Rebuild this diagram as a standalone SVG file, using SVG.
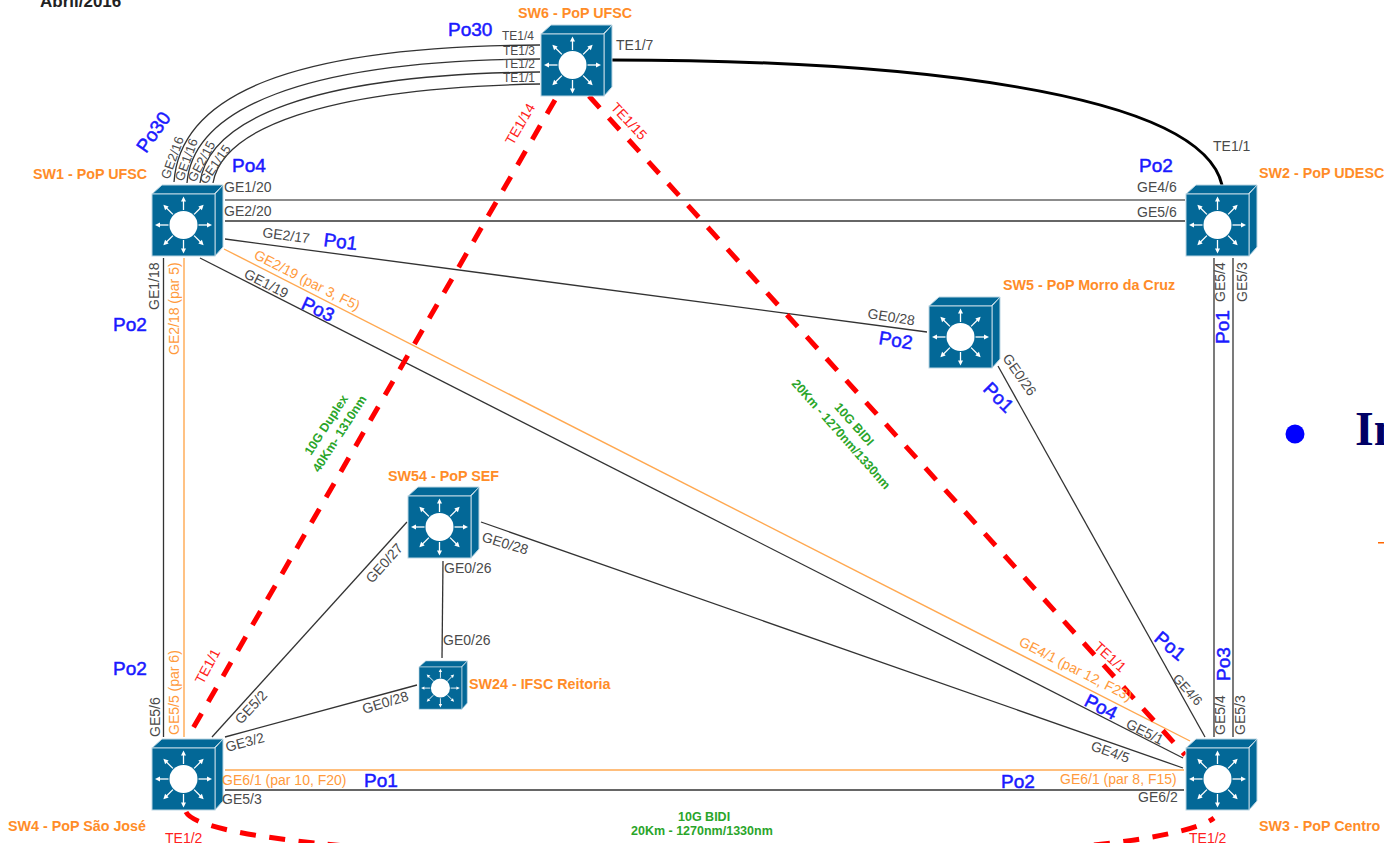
<svg xmlns="http://www.w3.org/2000/svg" xmlns:xlink="http://www.w3.org/1999/xlink" width="1384" height="843" viewBox="0 0 1384 843">
<style>
text{font-family:"Liberation Sans",Arial,sans-serif}
.p{font-size:14px;fill:#4a4a4a}
.s{font-size:13px;fill:#4a4a4a}
.t{font-size:12px;fill:#4a4a4a}
.o{font-size:14px;fill:#ff9a3c}
.b{font-size:19px;fill:#1a1aff;stroke:#1a1aff;stroke-width:.5}
.r{font-size:14px;fill:#ff2020}
.g{font-size:12.5px;font-weight:bold;fill:#2aa52a}
.n{font-size:14.3px;font-weight:bold;fill:#ff8c28}
.k{fill:none;stroke:#333;stroke-width:1.3}
.a{fill:none;stroke:#ffa850;stroke-width:1.4}
.d{fill:none;stroke:#f00;stroke-width:5;stroke-dasharray:16 13.5}
.fr{fill:#036897;stroke:#bcd6e3;stroke-width:1}
</style>
<defs>
<g id="ar"><path d="M0-15V-24" stroke="#fff" stroke-width="1.3" fill="none"/><path d="M0-28.5L2.500-23.500H-2.500Z" fill="#fff"/></g>
<g id="sw">
<path class="fr" d="M0 0L10-9H71L62 0Z"/>
<path class="fr" d="M63 0L71-9V53L63 62Z"/>
<rect class="fr" x="0" y="0" width="63" height="62"/>
<circle cx="31.5" cy="31" r="14" fill="#fff"/>
<g transform="translate(31.5 31)">
<use xlink:href="#ar" href="#ar"/>
<use xlink:href="#ar" href="#ar" transform="rotate(45)"/>
<use xlink:href="#ar" href="#ar" transform="rotate(90)"/>
<use xlink:href="#ar" href="#ar" transform="rotate(135)"/>
<use xlink:href="#ar" href="#ar" transform="rotate(180)"/>
<use xlink:href="#ar" href="#ar" transform="rotate(225)"/>
<use xlink:href="#ar" href="#ar" transform="rotate(270)"/>
<use xlink:href="#ar" href="#ar" transform="rotate(315)"/>
</g>
</g>
</defs>
<rect width="1384" height="843" fill="#fff"/>
<g id="connectors">
<path class="k" d="M174 182C180 95 290 46 540 45"/>
<path class="k" d="M187 183C193 110 300 60 540 59"/>
<path class="k" d="M200 183C208 120 310 74 540 72"/>
<path class="k" d="M213 183C222 130 320 88 540 84"/>
<path d="M611 60C900 60 1200 90 1222 185" fill="none" stroke="#000" stroke-width="3"/>
<path d="M225 200H1185" fill="none" stroke="#666" stroke-width="1.6"/>
<path class="k" d="M225 221H1185"/>
<path class="k" d="M225 239L927 332"/>
<path class="a" d="M224 249L1190 741"/>
<path class="k" d="M200 258L1183 758"/>
<path class="k" d="M481 522L1183 768"/>
<path class="k" d="M443 561L442 658"/>
<path class="k" d="M407 522L212 737"/>
<path class="k" d="M225 737L417 685"/>
<path class="k" d="M998 366L1205 737"/>
<path class="k" d="M163.500 258V737"/>
<path class="a" d="M184 258V737"/>
<path class="k" d="M1214 258V737"/>
<path class="k" d="M1233 258V737"/>
<path class="a" d="M225 770H1184"/>
<path class="k" d="M225 790H1184"/>
<path class="d" d="M555 100L188 737"/>
<path class="d" d="M589 96L1185 755"/>
<path class="d" d="M186 812C215 870 1130 880 1214 818"/>
</g>
<g id="sw1"><use xlink:href="#sw" href="#sw" x="152" y="194"/><text class="n" x="33" y="179">SW1 - PoP UFSC</text></g>
<g id="sw6"><use xlink:href="#sw" href="#sw" x="541" y="34"/><text class="n" x="518" y="18">SW6 - PoP UFSC</text></g>
<g id="sw2"><use xlink:href="#sw" href="#sw" x="1186" y="194"/><text class="n" x="1259" y="178">SW2 - PoP UDESC</text></g>
<g id="sw5"><use xlink:href="#sw" href="#sw" x="929" y="306"/><text class="n" x="1003" y="290">SW5 - PoP Morro da Cruz</text></g>
<g id="sw54"><use xlink:href="#sw" href="#sw" x="408" y="496"/><text class="n" x="388" y="481">SW54 - PoP SEF</text></g>
<g id="sw24"><use xlink:href="#sw" href="#sw" transform="translate(419 667) scale(.68)"/><text class="n" x="469" y="689">SW24 - IFSC Reitoria</text></g>
<g id="sw4"><use xlink:href="#sw" href="#sw" x="152" y="748"/><text class="n" x="8" y="831">SW4 - PoP São José</text></g>
<g id="sw3"><use xlink:href="#sw" href="#sw" x="1186" y="748"/><text class="n" x="1259" y="831">SW3 - PoP Centro</text></g>
<g id="labels">
<text x="40" y="7" font-size="17" font-weight="bold" fill="#222">Abril/2016</text>
<text class="b" x="448" y="36">Po30</text>
<text class="t" x="502" y="40">TE1/4</text>
<text class="t" x="503" y="55">TE1/3</text>
<text class="t" x="503" y="68">TE1/2</text>
<text class="t" x="503" y="82">TE1/1</text>
<text class="p" x="616" y="50">TE1/7</text>
<text class="r" transform="translate(513 146) rotate(-60)">TE1/14</text>
<text class="r" transform="translate(610 108) rotate(47)">TE1/15</text>
<text class="b" transform="translate(146 154) rotate(-55)">Po30</text>
<text class="s" transform="translate(169 180) rotate(-70)">GE2/16</text>
<text class="s" transform="translate(183 182) rotate(-70)">GE1/16</text>
<text class="s" transform="translate(195 183) rotate(-62)">GE2/15</text>
<text class="s" transform="translate(206 185) rotate(-55)">GE1/15</text>
<text class="b" x="232" y="172">Po4</text>
<text class="p" x="224" y="192">GE1/20</text>
<text class="p" x="224" y="216">GE2/20</text>
<text class="p" transform="translate(262 237) rotate(7.500)">GE2/17</text>
<text class="b" transform="translate(323 246) rotate(7)">Po1</text>
<text class="o" transform="translate(253 258) rotate(27)">GE2/19 (par 3, F5)</text>
<text class="p" transform="translate(243 277) rotate(27)">GE1/19</text>
<text class="b" transform="translate(300 308) rotate(25)">Po3</text>
<text class="p" transform="translate(159 310) rotate(-90)">GE1/18</text>
<text class="o" transform="translate(179 355) rotate(-90)">GE2/18 (par 5)</text>
<text class="b" x="113" y="331">Po2</text>
<text class="b" x="113" y="675">Po2</text>
<text class="p" transform="translate(160 737) rotate(-90)">GE5/6</text>
<text class="o" transform="translate(179 735) rotate(-90)">GE5/5 (par 6)</text>
<text class="r" transform="translate(203 685) rotate(-62)">TE1/1</text>
<text class="p" transform="translate(241 725) rotate(-47)">GE5/2</text>
<text class="p" transform="translate(227 752) rotate(-15)">GE3/2</text>
<text class="p" transform="translate(364 714) rotate(-17)">GE0/28</text>
<text class="o" x="222" y="785">GE6/1 (par 10, F20)</text>
<text class="b" x="364" y="787">Po1</text>
<text class="p" x="222" y="804">GE5/3</text>
<text class="r" x="165" y="843">TE1/2</text>
<text class="p" transform="translate(372 584) rotate(-48)">GE0/27</text>
<text class="p" transform="translate(481 541) rotate(17)">GE0/28</text>
<text class="p" x="444" y="573">GE0/26</text>
<text class="p" x="443" y="645">GE0/26</text>
<text class="g" transform="translate(311 456) rotate(-57)">10G Duplex</text>
<text class="g" transform="translate(319 473) rotate(-57)">40Km- 1310nm</text>
<text class="g" text-anchor="middle" transform="translate(851 427) rotate(48.500)">10G BIDI</text>
<text class="g" text-anchor="middle" transform="translate(838 437) rotate(48.500)">20Km - 1270nm/1330nm</text>
<text class="r" transform="translate(1093 648) rotate(42)">TE1/1</text>
<text class="o" transform="translate(1018 645) rotate(27)">GE4/1 (par 12, F23)</text>
<text class="b" transform="translate(1153 640) rotate(40)">Po1</text>
<text class="s" transform="translate(1172 679) rotate(48)">GE4/6</text>
<text class="p" transform="translate(1225 735) rotate(-90)">GE5/4</text>
<text class="p" transform="translate(1245 735) rotate(-90)">GE5/3</text>
<text class="b" transform="translate(1230 681) rotate(-90)">Po3</text>
<text class="b" transform="translate(1083 705) rotate(27)">Po4</text>
<text class="p" transform="translate(1125 727) rotate(27)">GE5/1</text>
<text class="p" transform="translate(1090 750) rotate(19)">GE4/5</text>
<text class="b" x="1001" y="788">Po2</text>
<text class="o" x="1060" y="784">GE6/1 (par 8, F15)</text>
<text class="p" x="1138" y="802">GE6/2</text>
<text class="r" x="1189" y="843">TE1/2</text>
<text class="g" x="678" y="821">10G BIDI</text>
<text class="g" x="631" y="835">20Km - 1270nm/1330nm</text>
<text class="b" x="1139" y="172">Po2</text>
<text class="p" x="1137" y="192">GE4/6</text>
<text class="p" x="1137" y="217">GE5/6</text>
<text class="p" x="1213" y="151">TE1/1</text>
<text class="p" transform="translate(1225 302) rotate(-90)">GE5/4</text>
<text class="p" transform="translate(1247 302) rotate(-90)">GE5/3</text>
<text class="b" transform="translate(1229 344) rotate(-90)">Po1</text>
<text class="p" transform="translate(867 318) rotate(9)">GE0/28</text>
<text class="b" transform="translate(878 344) rotate(9)">Po2</text>
<text class="b" transform="translate(982 390) rotate(45)">Po1</text>
<text class="p" transform="translate(1002 358) rotate(55)">GE0/26</text>
</g>
<g id="backdrop">
<circle cx="1295" cy="434" r="9.500" fill="#00f"/>
<text x="1355" y="445" font-size="48" font-weight="bold" fill="#000066" style="font-family:'Liberation Serif',serif">In</text>
<rect x="1378" y="542" width="6" height="1.500" fill="#f60"/>
</g>
</svg>
